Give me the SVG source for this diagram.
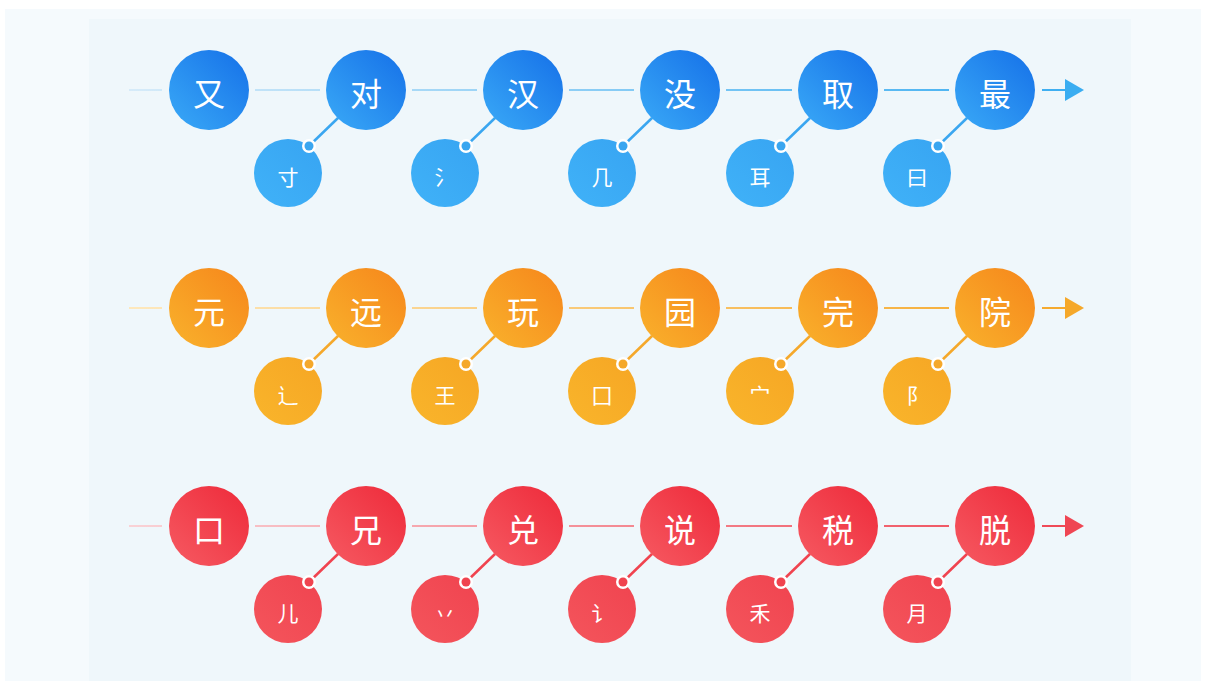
<svg xmlns="http://www.w3.org/2000/svg" width="1206" height="681" viewBox="0 0 1206 681">
<defs>
<linearGradient id="bB" x1="0" y1="1" x2="1" y2="0"><stop offset="0" stop-color="#3aaaf7"/><stop offset="1" stop-color="#1570e8"/></linearGradient>
<linearGradient id="bS" x1="0" y1="1" x2="1" y2="0"><stop offset="0" stop-color="#40b2f8"/><stop offset="1" stop-color="#37a4f2"/></linearGradient>
<linearGradient id="oB" x1="0" y1="1" x2="1" y2="0"><stop offset="0" stop-color="#f9b22c"/><stop offset="1" stop-color="#f6861b"/></linearGradient>
<linearGradient id="oS" x1="0" y1="1" x2="1" y2="0"><stop offset="0" stop-color="#f9b52b"/><stop offset="1" stop-color="#f6a624"/></linearGradient>
<linearGradient id="rB" x1="0" y1="1" x2="1" y2="0"><stop offset="0" stop-color="#f65a62"/><stop offset="1" stop-color="#ee2a3a"/></linearGradient>
<linearGradient id="rS" x1="0" y1="1" x2="1" y2="0"><stop offset="0" stop-color="#f4555c"/><stop offset="1" stop-color="#f0434f"/></linearGradient>
<linearGradient id="bL" gradientUnits="userSpaceOnUse" x1="129" y1="0" x2="1084" y2="0"><stop offset="0" stop-color="#d6ebf9"/><stop offset="1" stop-color="#3aadf1"/></linearGradient>
<linearGradient id="oL" gradientUnits="userSpaceOnUse" x1="129" y1="0" x2="1084" y2="0"><stop offset="0" stop-color="#fde8bd"/><stop offset="1" stop-color="#f5a82a"/></linearGradient>
<linearGradient id="rL" gradientUnits="userSpaceOnUse" x1="129" y1="0" x2="1084" y2="0"><stop offset="0" stop-color="#f9d2d6"/><stop offset="1" stop-color="#ef4653"/></linearGradient>
</defs>
<style>
.big{font-family:"Noto Sans CJK SC","Noto Sans CJK JP",sans-serif;font-size:32px;fill:#fff;text-anchor:middle;dominant-baseline:central}
.sm{font-family:"Noto Sans CJK SC","Noto Sans CJK JP",sans-serif;font-size:21px;fill:#fff;text-anchor:middle;dominant-baseline:central}
.hl{stroke-width:2;fill:none}
.dg{stroke-width:2.5;fill:none}
</style>
<rect x="0" y="0" width="1206" height="681" fill="#ffffff"/>
<rect x="5" y="9" width="1196" height="672" fill="#f5fafd"/>
<rect x="89" y="19" width="1042" height="662" fill="#eff7fb"/>

<g id="connectors">
<!-- row 1 -->
<g stroke="url(#bL)" class="hl">
<line x1="129" y1="90" x2="162" y2="90"/><line x1="255" y1="90" x2="320" y2="90"/><line x1="412" y1="90" x2="477" y2="90"/><line x1="569" y1="90" x2="634" y2="90"/><line x1="726" y1="90" x2="792" y2="90"/><line x1="884" y1="90" x2="949" y2="90"/><line x1="1042" y1="90" x2="1066" y2="90"/>
</g>
<polygon points="1065,79 1084,90 1065,101" fill="#3aadf1"/>
<g stroke="#3aa6f0" class="dg">
<line x1="338" y1="118" x2="309" y2="146"/><line x1="495" y1="118" x2="466" y2="146"/><line x1="652" y1="118" x2="623" y2="146"/><line x1="810" y1="118" x2="781" y2="146"/><line x1="967" y1="118" x2="938" y2="146"/>
</g>
<!-- row 2 -->
<g stroke="url(#oL)" class="hl">
<line x1="129" y1="308" x2="162" y2="308"/><line x1="255" y1="308" x2="320" y2="308"/><line x1="412" y1="308" x2="477" y2="308"/><line x1="569" y1="308" x2="634" y2="308"/><line x1="726" y1="308" x2="792" y2="308"/><line x1="884" y1="308" x2="949" y2="308"/><line x1="1042" y1="308" x2="1066" y2="308"/>
</g>
<polygon points="1065,297 1084,308 1065,319" fill="#f5a82a"/>
<g stroke="#f5a82a" class="dg">
<line x1="338" y1="336" x2="309" y2="364"/><line x1="495" y1="336" x2="466" y2="364"/><line x1="652" y1="336" x2="623" y2="364"/><line x1="810" y1="336" x2="781" y2="364"/><line x1="967" y1="336" x2="938" y2="364"/>
</g>
<!-- row 3 -->
<g stroke="url(#rL)" class="hl">
<line x1="129" y1="526" x2="162" y2="526"/><line x1="255" y1="526" x2="320" y2="526"/><line x1="412" y1="526" x2="477" y2="526"/><line x1="569" y1="526" x2="634" y2="526"/><line x1="726" y1="526" x2="792" y2="526"/><line x1="884" y1="526" x2="949" y2="526"/><line x1="1042" y1="526" x2="1066" y2="526"/>
</g>
<polygon points="1065,515 1084,526 1065,537" fill="#ef4653"/>
<g stroke="#f0434f" class="dg">
<line x1="338" y1="554" x2="309" y2="582"/><line x1="495" y1="554" x2="466" y2="582"/><line x1="652" y1="554" x2="623" y2="582"/><line x1="810" y1="554" x2="781" y2="582"/><line x1="967" y1="554" x2="938" y2="582"/>
</g>
</g>

<!-- Row 1 blue -->
<g id="n-you"><circle cx="209" cy="90" r="40" fill="url(#bB)"/><text class="big" x="209" y="92">又</text></g>
<g id="n-dui"><circle cx="366" cy="90" r="40" fill="url(#bB)"/><text class="big" x="366" y="92">对</text></g>
<g id="n-han"><circle cx="523" cy="90" r="40" fill="url(#bB)"/><text class="big" x="523" y="92">汉</text></g>
<g id="n-mei"><circle cx="680" cy="90" r="40" fill="url(#bB)"/><text class="big" x="680" y="92">没</text></g>
<g id="n-qu"><circle cx="838" cy="90" r="40" fill="url(#bB)"/><text class="big" x="838" y="92">取</text></g>
<g id="n-zui"><circle cx="995" cy="90" r="40" fill="url(#bB)"/><text class="big" x="995" y="92">最</text></g>
<g id="s-cun"><circle cx="288" cy="173" r="34" fill="url(#bS)"/><text class="sm" x="288" y="176">寸</text><circle cx="309" cy="146" r="7" fill="#fff"/><circle cx="309" cy="146" r="4.5" fill="#3aa6f0"/></g>
<g id="s-shui"><circle cx="445" cy="173" r="34" fill="url(#bS)"/><text class="sm" x="445" y="176">氵</text><circle cx="466" cy="146" r="7" fill="#fff"/><circle cx="466" cy="146" r="4.5" fill="#3aa6f0"/></g>
<g id="s-ji"><circle cx="602" cy="173" r="34" fill="url(#bS)"/><text class="sm" x="602" y="176">几</text><circle cx="623" cy="146" r="7" fill="#fff"/><circle cx="623" cy="146" r="4.5" fill="#3aa6f0"/></g>
<g id="s-er"><circle cx="760" cy="173" r="34" fill="url(#bS)"/><text class="sm" x="760" y="176">耳</text><circle cx="781" cy="146" r="7" fill="#fff"/><circle cx="781" cy="146" r="4.5" fill="#3aa6f0"/></g>
<g id="s-yue"><circle cx="917" cy="173" r="34" fill="url(#bS)"/><text class="sm" x="917" y="176">曰</text><circle cx="938" cy="146" r="7" fill="#fff"/><circle cx="938" cy="146" r="4.5" fill="#3aa6f0"/></g>

<!-- Row 2 orange -->
<g id="n-yuan"><circle cx="209" cy="308" r="40" fill="url(#oB)"/><text class="big" x="209" y="310">元</text></g>
<g id="n-yuan2"><circle cx="366" cy="308" r="40" fill="url(#oB)"/><text class="big" x="366" y="310">远</text></g>
<g id="n-wan"><circle cx="523" cy="308" r="40" fill="url(#oB)"/><text class="big" x="523" y="310">玩</text></g>
<g id="n-yuan3"><circle cx="680" cy="308" r="40" fill="url(#oB)"/><text class="big" x="680" y="310">园</text></g>
<g id="n-wan2"><circle cx="838" cy="308" r="40" fill="url(#oB)"/><text class="big" x="838" y="310">完</text></g>
<g id="n-yuan4"><circle cx="995" cy="308" r="40" fill="url(#oB)"/><text class="big" x="995" y="310">院</text></g>
<g id="s-chuo"><circle cx="288" cy="391" r="34" fill="url(#oS)"/><text class="sm" x="288" y="394">辶</text><circle cx="309" cy="364" r="7" fill="#fff"/><circle cx="309" cy="364" r="4.5" fill="#f5a82a"/></g>
<g id="s-wang"><circle cx="445" cy="391" r="34" fill="url(#oS)"/><text class="sm" x="445" y="394">王</text><circle cx="466" cy="364" r="7" fill="#fff"/><circle cx="466" cy="364" r="4.5" fill="#f5a82a"/></g>
<g id="s-wei"><circle cx="602" cy="391" r="34" fill="url(#oS)"/><text class="sm" x="602" y="394">囗</text><circle cx="623" cy="364" r="7" fill="#fff"/><circle cx="623" cy="364" r="4.5" fill="#f5a82a"/></g>
<g id="s-mian"><circle cx="760" cy="391" r="34" fill="url(#oS)"/><text class="sm" x="760" y="394">宀</text><circle cx="781" cy="364" r="7" fill="#fff"/><circle cx="781" cy="364" r="4.5" fill="#f5a82a"/></g>
<g id="s-fu"><circle cx="917" cy="391" r="34" fill="url(#oS)"/><text class="sm" x="917" y="394">阝</text><circle cx="938" cy="364" r="7" fill="#fff"/><circle cx="938" cy="364" r="4.5" fill="#f5a82a"/></g>

<!-- Row 3 red -->
<g id="n-kou"><circle cx="209" cy="526" r="40" fill="url(#rB)"/><text class="big" x="209" y="528">口</text></g>
<g id="n-xiong"><circle cx="366" cy="526" r="40" fill="url(#rB)"/><text class="big" x="366" y="528">兄</text></g>
<g id="n-dui2"><circle cx="523" cy="526" r="40" fill="url(#rB)"/><text class="big" x="523" y="528">兑</text></g>
<g id="n-shuo"><circle cx="680" cy="526" r="40" fill="url(#rB)"/><text class="big" x="680" y="528">说</text></g>
<g id="n-shui"><circle cx="838" cy="526" r="40" fill="url(#rB)"/><text class="big" x="838" y="528">税</text></g>
<g id="n-tuo"><circle cx="995" cy="526" r="40" fill="url(#rB)"/><text class="big" x="995" y="528">脱</text></g>
<g id="s-er2"><circle cx="288" cy="609" r="34" fill="url(#rS)"/><text class="sm" x="288" y="612">儿</text><circle cx="309" cy="582" r="7" fill="#fff"/><circle cx="309" cy="582" r="4.5" fill="#f0434f"/></g>
<g id="s-ba"><circle cx="445" cy="609" r="34" fill="url(#rS)"/><text class="sm" x="445" y="612">丷</text><circle cx="466" cy="582" r="7" fill="#fff"/><circle cx="466" cy="582" r="4.5" fill="#f0434f"/></g>
<g id="s-yan"><circle cx="602" cy="609" r="34" fill="url(#rS)"/><text class="sm" x="602" y="612">讠</text><circle cx="623" cy="582" r="7" fill="#fff"/><circle cx="623" cy="582" r="4.5" fill="#f0434f"/></g>
<g id="s-he"><circle cx="760" cy="609" r="34" fill="url(#rS)"/><text class="sm" x="760" y="612">禾</text><circle cx="781" cy="582" r="7" fill="#fff"/><circle cx="781" cy="582" r="4.5" fill="#f0434f"/></g>
<g id="s-yue2"><circle cx="917" cy="609" r="34" fill="url(#rS)"/><text class="sm" x="917" y="612">月</text><circle cx="938" cy="582" r="7" fill="#fff"/><circle cx="938" cy="582" r="4.5" fill="#f0434f"/></g>
</svg>
